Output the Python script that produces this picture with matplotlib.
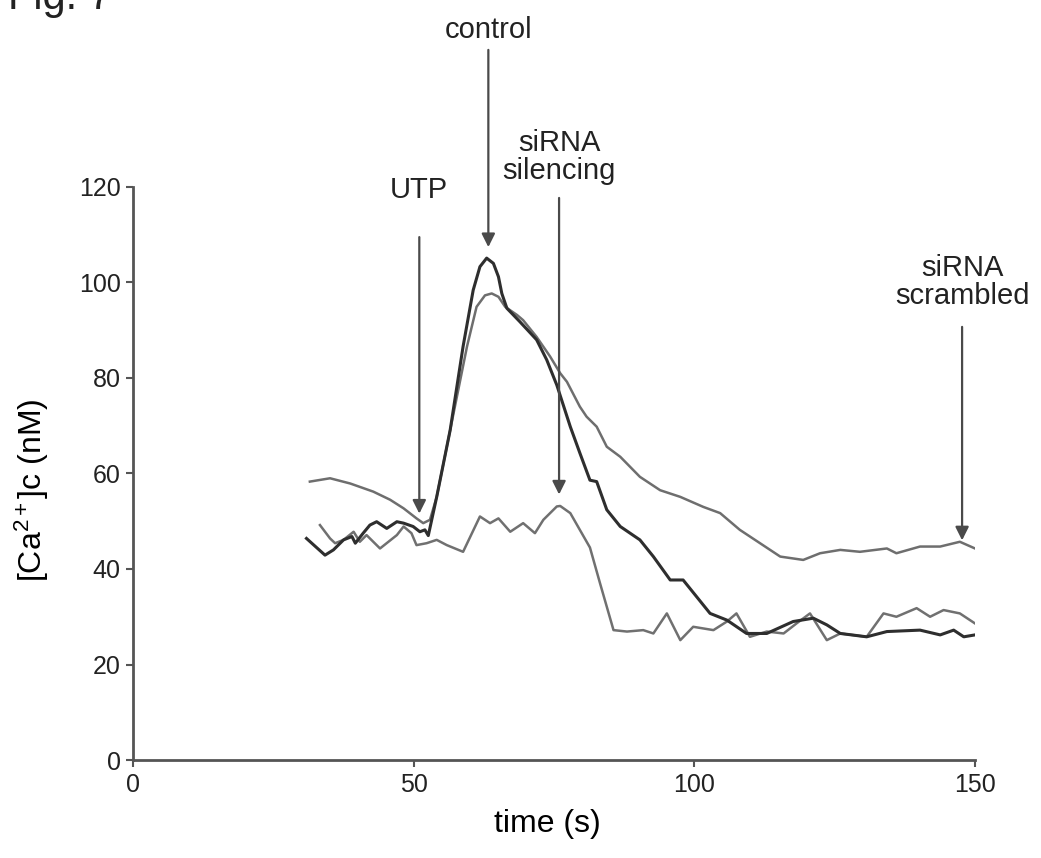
import matplotlib
matplotlib.use("Agg")
import matplotlib.pyplot as plt

plt.rcParams.update({
    "font.family": ["Liberation Sans", "DejaVu Sans"],
    "mathtext.fontset": "custom",
    "mathtext.rm": "Liberation Sans",
    "mathtext.it": "Liberation Sans",
    "text.color": "#222222",
})

# Cytosolic calcium traces, time in s, concentration in nM
control_t = [30.9, 34.2, 35.7, 37.5, 39.0, 39.6, 41.0, 42.2, 43.4, 45.2, 47.0, 48.2,
             49.9, 51.1, 52.0, 52.6, 54.1, 56.5, 58.8, 60.6, 61.8, 63.0, 64.2, 65.1,
             65.7, 66.6, 68.9, 71.9, 73.7, 75.5, 77.9, 79.6, 81.4, 82.6, 84.4, 86.8,
             90.3, 92.7, 95.7, 98.0, 100.4, 102.8, 105.8, 109.3, 112.9, 117.6, 121.2,
             123.6, 126.0, 130.7, 134.3, 140.2, 143.8, 146.2, 148.0, 150.0]
control_ca = [46.4, 42.9, 44.0, 46.1, 46.8, 45.4, 47.5, 49.2, 49.9, 48.5, 49.9, 49.6,
              48.9, 47.8, 48.2, 47.0, 55.1, 69.1, 86.6, 98.4, 103.3, 105.1, 104.0, 101.2,
              97.7, 94.6, 91.8, 88.0, 83.8, 78.5, 69.8, 64.3, 58.6, 58.3, 52.4, 48.9,
              46.1, 42.6, 37.7, 37.7, 34.2, 30.7, 29.3, 26.5, 26.5, 29.0, 29.7,
              28.3, 26.5, 25.8, 26.9, 27.2, 26.2, 27.2, 25.8, 26.2]

scrambled_t = [31.5, 35.1, 38.7, 42.8, 45.8, 48.2, 50.5, 51.7, 52.9, 54.1, 55.9, 57.7,
               59.5, 61.2, 62.7, 63.9, 65.1, 66.3, 68.4, 69.5, 71.9, 74.3, 76.1, 77.3,
               79.6, 80.8, 82.6, 84.4, 86.8, 90.3, 93.9, 97.5, 101.6, 104.6, 108.1,
               111.7, 115.3, 119.4, 122.4, 126.0, 129.5, 134.3, 136.0, 140.2, 143.8,
               147.3, 150.0]
scrambled_ca = [58.3, 59.0, 57.9, 56.2, 54.5, 52.7, 50.6, 49.6, 50.3, 55.1, 65.6, 76.1,
                86.6, 94.9, 97.3, 97.7, 97.0, 94.9, 93.2, 92.1, 88.6, 84.5, 81.0, 79.2,
                74.0, 71.9, 69.8, 65.6, 63.5, 59.3, 56.5, 55.1, 53.0, 51.7, 48.2,
                45.4, 42.6, 41.9, 43.3, 44.0, 43.6, 44.3, 43.3, 44.7, 44.7,
                45.7, 44.3]

silencing_t = [33.3, 35.1, 36.0, 37.5, 39.3, 40.4, 41.6, 42.8, 44.0, 45.5, 47.0, 48.2,
               49.6, 50.5, 52.3, 54.1, 55.9, 58.8, 61.8, 63.6, 65.1, 67.2, 69.5, 71.6,
               73.1, 75.5, 76.1, 77.9, 79.6, 81.4, 83.2, 85.6, 88.0, 90.9, 92.7, 95.1,
               97.5, 99.8, 103.4, 105.8, 107.5, 109.9, 112.9, 115.9, 118.2, 120.6,
               123.6, 126.0, 130.7, 133.7, 136.0, 139.6, 142.0, 144.4, 147.3, 150.0]
silencing_ca = [49.2, 46.4, 45.4, 46.1, 47.8, 45.7, 47.1, 45.7, 44.3, 45.7, 47.1, 48.9,
                47.5, 45.0, 45.4, 46.1, 45.0, 43.6, 51.0, 49.6, 50.6, 47.8, 49.6, 47.5,
                50.3, 53.1, 53.2, 51.7, 48.2, 44.5, 37.0, 27.2, 26.9, 27.2, 26.5, 30.7,
                25.1, 27.9, 27.2, 29.0, 30.7, 25.8, 26.9, 26.5, 28.6, 30.7,
                25.1, 26.5, 25.8, 30.7, 30.0, 31.8, 30.0, 31.4, 30.7, 28.6]

x_ticks = [0, 50, 100, 150]
y_ticks = [0, 20, 40, 60, 80, 100, 120]

# label, text position, arrow start, arrow tip (data units)
callouts = [
    ("UTP", (51.0, 119.4), (51.0, 109.5), (51.0, 51.6)),
    ("control", (63.3, 152.9), (63.3, 148.7), (63.3, 107.4)),
    ("siRNA\nsilencing", (75.9, 126.3), (75.9, 117.7), (75.9, 55.6)),
    ("siRNA\nscrambled", (147.7, 100.1), (147.7, 90.7), (147.7, 46.0)),
]

fig = plt.figure(figsize=(10.41, 8.58), dpi=100)
ax = fig.add_axes([0.1278, 0.1142, 0.8088, 0.6679])

ax.plot(scrambled_t, scrambled_ca, color="#6e6e6e", lw=1.8)
ax.plot(silencing_t, silencing_ca, color="#707070", lw=1.8)
ax.plot(control_t, control_ca, color="#2e2e2e", lw=2.2)

for label, txt_xy, start, tip in callouts:
    ax.annotate("", xy=tip, xytext=start, annotation_clip=False,
                arrowprops=dict(arrowstyle="-|>", color="#4a4a4a", lw=1.6,
                                mutation_scale=20, shrinkA=0, shrinkB=0))
    ax.text(txt_xy[0], txt_xy[1], label, ha="center", va="center",
            fontsize=21, linespacing=1.0, clip_on=False)

ax.set_xlim(0, 150)
ax.set_ylim(0, 120)
ax.set_xticks(x_ticks)
ax.set_yticks(y_ticks)
ax.spines["top"].set_visible(False)
ax.spines["right"].set_visible(False)
for side in ("left", "bottom"):
    ax.spines[side].set_color("#555555")
    ax.spines[side].set_linewidth(2.0)
ax.tick_params(direction="out", length=5, width=1.5, color="#555555",
               labelsize=18, labelcolor="#222222", pad=4)

ax.set_xlabel("time (s)", fontsize=23)
ax.set_ylabel(r"[Ca$^{2+}$]c (nM)", fontsize=23)
ax.xaxis.set_label_coords(0.492, -0.085)
ax.yaxis.set_label_coords(-0.097, 0.47)

fig.text(8 / 1041, 1 - 9 / 858, "Fig. 7", fontsize=30, va="baseline", ha="left")

fig.savefig("out.png", dpi=100, facecolor="white")
